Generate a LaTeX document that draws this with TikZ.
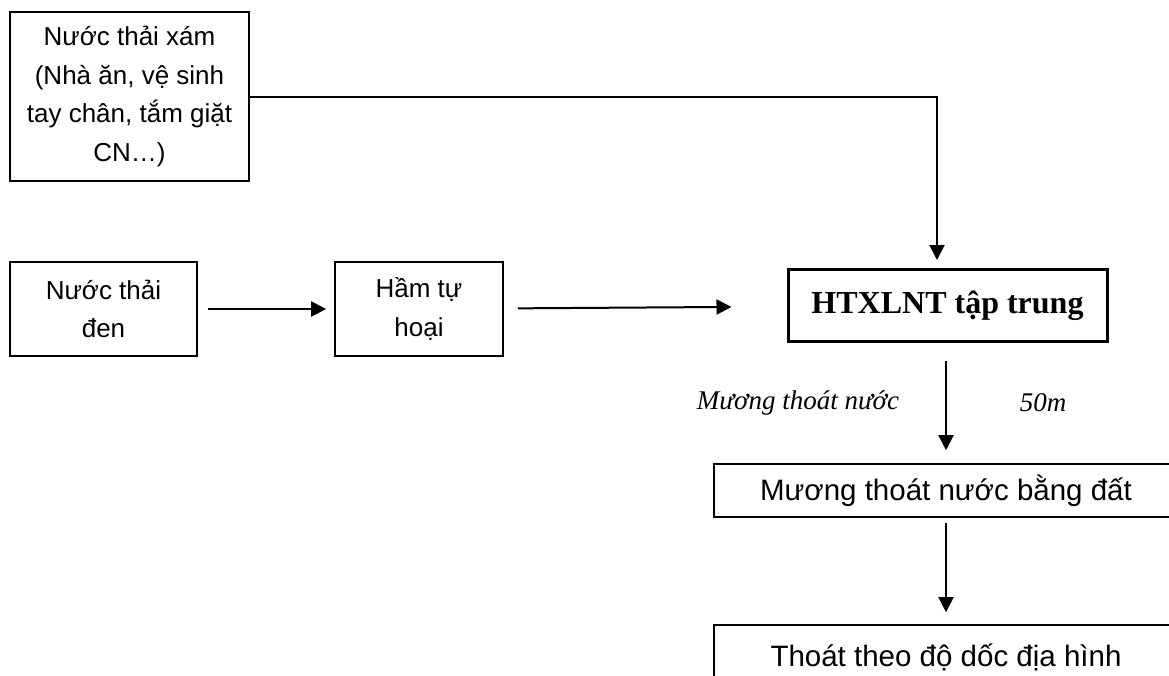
\documentclass[tikz,border=0pt]{standalone}
\usepackage{fontspec}
\setmainfont{Liberation Sans}
\newfontfamily\timesfont{Liberation Serif}
\usetikzlibrary{arrows.meta,positioning}

\begin{document}
\begin{tikzpicture}[x=1pt,y=-1pt,
  box/.style={draw,line width=1.6pt,align=center,inner sep=0pt,
    font=\fontsize{26}{38.5}\selectfont},
  outbox/.style={box,minimum width=464pt,font=\fontsize{29.5}{36}\selectfont},
  arr/.style={line width=2pt,-{Triangle[length=15pt,width=15pt]}},
  lbl/.style={font=\timesfont\itshape\fontsize{27}{32}\selectfont}]

  \useasboundingbox (0,0) rectangle (1169,675);
  \clip (0,0) rectangle (1169,675);

  % sources
  \node[box,minimum width=239pt,minimum height=169pt] (xam) at (129.5,96.5)
    {Nước thải xám\\(Nhà ăn, vệ sinh\\tay chân, tắm giặt\\CN…)};
  \node[box,minimum width=187pt,minimum height=94pt] (den) at (103.5,309)
    {Nước thải\\đen};
  \node[box,minimum width=168pt,minimum height=94pt] (ham) at (419,309)
    {Hầm tự\\hoại};
  \node[box,line width=3pt,minimum width=319pt,minimum height=72pt,
    font=\timesfont\bfseries\fontsize{32}{38}\selectfont] (htx) at (947.5,305.5)
    {HTXLNT tập trung};

  % outlet
  \node[outbox,minimum height=53pt] (muong) at (946,490.5)
    {Mương thoát nước bằng đất};
  \node[outbox,minimum height=64pt] (doc) at (946,657)
    {Thoát theo độ dốc địa hình};

  \node[lbl] (lmuong) at (798,403) {Mương thoát nước};
  \node[lbl] (ldai) at (1043,403) {50m};

  \draw[arr,shorten >=8pt] (xam.east) -| ([xshift=-10.5pt]htx.north);
  \draw[arr,shorten <=10pt,shorten >=8pt] (den) -- (ham);
  \draw[arr,shorten <=14pt,shorten >=55pt] (ham) -- (htx);
  \draw[arr,shorten <=18pt,shorten >=13pt] (htx.south -| muong) -- (muong.north);
  \draw[arr,shorten <=5pt,shorten >=12pt] (muong) -- (doc);
\end{tikzpicture}
\end{document}
